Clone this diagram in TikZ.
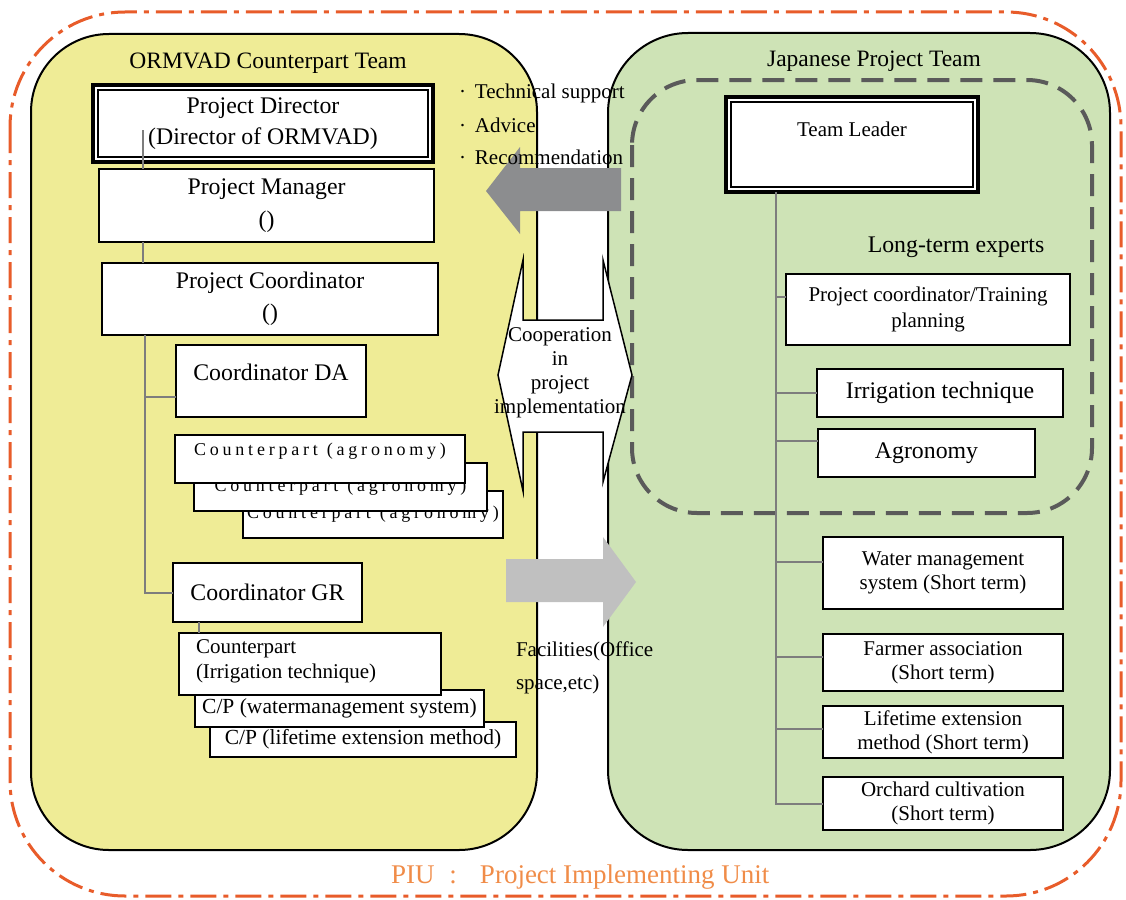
\documentclass[tikz,border=0pt]{standalone}
\usepackage{fontspec}
\setmainfont{Liberation Serif}
\newfontfamily\spacedfont[LetterSpace=21]{Liberation Serif}
\definecolor{ylw}{RGB}{239,236,150}
\definecolor{grn}{RGB}{206,227,182}
\definecolor{orng}{RGB}{232,92,42}
\definecolor{piuc}{RGB}{240,140,72}
\definecolor{connc}{RGB}{125,125,125}
\definecolor{dgray}{RGB}{90,90,90}
\definecolor{arrdark}{RGB}{140,141,143}
\definecolor{arrlight}{RGB}{192,192,192}
\newcommand\bx[7][]{\node[box,minimum width={(#5-#3)*1pt},minimum height={(#6-#4)*1pt},#1] (#2) at ({(#3+#5)/2},{(#4+#6)/2}) {#7};}
\begin{document}
\begin{tikzpicture}[x=1pt,y=-1pt,
  box/.style={draw=black,line width=2pt,fill=white,inner sep=0pt,outer sep=0pt,align=center},
  conn/.style={draw=connc,line width=2pt},
  txt/.style={inner sep=0pt,outer sep=0pt},
  bigtext/.style={font=\fontsize{23.8}{31}\selectfont},
  midtext/.style={font=\fontsize{21}{24}\selectfont},
  sptext/.style={font=\fontsize{18}{20}\spacedfont}]
\useasboundingbox (0,0) rectangle (1126,899);

% outer PIU border
\draw[orng,line width=3pt,dash pattern=on 26pt off 7pt on 5pt off 7pt,rounded corners=115pt] (10,12) rectangle (1121,896);

% team areas
\draw[fill=ylw,line width=2pt,rounded corners=78pt] (31,34) rectangle (537,850);
\draw[fill=grn,line width=2pt,rounded corners=80pt] (608,33) rectangle (1110,850);
\draw[dgray,line width=4pt,dash pattern=on 22pt off 11pt,rounded corners=65pt] (632,80) rectangle (1092,513);

\node[txt,font=\fontsize{23.5}{28}\selectfont] (ltitle) at (268,63) {ORMVAD Counterpart Team};
\node[txt,font=\fontsize{23.5}{28}\selectfont] (rtitle) at (874,61) {Japanese Project Team};

% cooperation double arrow
\draw[fill=white,line width=1.5pt,line join=miter] (498,375) -- (523,260) -- (523,320) -- (603,320) -- (603,260) -- (632,375) -- (603,482) -- (603,432) -- (523,432) -- (523,491) -- cycle;
\node[txt,midtext,align=center] (coop) at (560,373) {Cooperation\\in\\project\\implementation};

% gray arrows
\fill[arrdark] (486,191) -- (520,147) -- (520,168) -- (621,168) -- (621,211) -- (520,211) -- (520,234) -- cycle;
\fill[arrlight] (636,582) -- (603,537) -- (603,559) -- (506,559) -- (506,602) -- (603,602) -- (603,627) -- cycle;

\node[txt,midtext,anchor=west] (b1) at (459,93) {\makebox[16pt][l]{·}Technical support};
\node[txt,midtext,anchor=west] (b2) at (459,125) {\makebox[16pt][l]{·}Advice};
\node[txt,midtext,anchor=west] (b3) at (459,157) {\makebox[16pt][l]{·}Recommendation};
\node[txt,anchor=west,align=left,font=\fontsize{21}{33}\selectfont] (fac) at (516,668) {Facilities(Office\\space,etc)};

% left boxes
\bx[line width=3.5pt,bigtext]{pd}{93}{85}{433}{162}{Project Director\\(Director of ORMVAD)}
\draw[line width=1.7pt] ([shift={(5pt,-5pt)}]pd.north west) rectangle ([shift={(-5pt,5pt)}]pd.south east);
\bx[font=\fontsize{23.8}{33}\selectfont]{pm}{99}{169}{434}{242}{Project Manager\\()}
\bx[font=\fontsize{23.8}{32}\selectfont]{pc}{102}{263}{438}{335}{Project Coordinator\\()}
\bx[label={[bigtext,yshift=9pt]center:Coordinator DA}]{da}{176}{345}{366}{417}{}
\bx[sptext]{cp3}{243}{491}{503}{538}{Counterpart\hspace{9pt}(agronomy)}
\bx[sptext]{cp2}{194}{463}{487}{511}{Counterpart\hspace{9pt}(agronomy)}
\bx[label={[sptext,yshift=8pt]center:Counterpart\hspace{9pt}(agronomy)}]{cp1}{175}{435}{465}{483}{}
\bx[bigtext]{gr}{173}{563}{362}{622}{Coordinator GR}
\bx[font=\fontsize{21.5}{24}\selectfont]{lem2}{210}{722}{516}{757}{C/P (lifetime extension method)}
\bx[font=\fontsize{21.5}{24}\selectfont]{wms2}{195}{690}{484}{727}{C/P (watermanagement system)}
\bx{icp}{179}{633}{441}{695}{}
\node[txt,anchor=west,align=left,font=\fontsize{21}{25}\selectfont] (icpt) at (196,661) {Counterpart\\(Irrigation technique)};

% right boxes
\bx[line width=3.5pt,label={[font=\fontsize{21}{25}\selectfont,yshift=15pt]center:Team Leader}]{tl}{726}{97}{978}{192}{}
\draw[line width=1.7pt] ([shift={(5pt,-5pt)}]tl.north west) rectangle ([shift={(-5pt,5pt)}]tl.south east);
\node[txt,bigtext] (lte) at (956,247) {Long-term experts};
\bx[font=\fontsize{21}{26}\selectfont]{pctp}{786}{274}{1070}{345}{Project coordinator/Training\\planning}
\bx[bigtext]{irr}{817}{369}{1063}{417}{Irrigation technique}
\bx[bigtext]{agr}{818}{429}{1035}{477}{Agronomy}
\bx[midtext]{wms}{823}{537}{1063}{609}{Water management\\system (Short term)}
\bx[midtext]{fas}{823}{634}{1063}{691}{Farmer association\\(Short term)}
\bx[midtext]{lem}{823}{706}{1063}{758}{Lifetime extension\\method (Short term)}
\bx[midtext]{orc}{823}{777}{1063}{830}{Orchard cultivation\\(Short term)}

% left connectors
\coordinate (sp1) at (143,130);
\draw[conn] (sp1) -- (sp1 |- pm.north);
\draw[conn] (pm.south -| sp1) -- (pc.north -| sp1);
\coordinate (sp) at (145,335);
\draw[conn] (pc.south -| sp) |- (gr.west);
\draw[conn] (sp |- 0,397) -- (da.west |- 0,397);
\draw[conn] (gr.south -| 199,0) -- (icp.north -| 199,0);

% right connectors
\coordinate (sp2) at (776,192);
\draw[conn] (tl.south -| sp2) |- (orc.west);
\draw[conn] (sp2 |- 0,297) -- (pctp.west |- 0,297);
\draw[conn] (sp2 |- irr.west) -- (irr.west);
\draw[conn] (sp2 |- 0,441) -- (agr.west |- 0,441);
\draw[conn] (sp2 |- 0,562) -- (wms.west |- 0,562);
\draw[conn] (sp2 |- 0,657) -- (fas.west |- 0,657);
\draw[conn] (sp2 |- 0,729) -- (lem.west |- 0,729);

% PIU label
\node[txt,anchor=west,text=piuc,font=\fontsize{27}{32}\selectfont] (piu) at (391,877) {PIU\hspace{15pt}:\hspace{23pt}Project Implementing Unit};
\end{tikzpicture}
\end{document}
